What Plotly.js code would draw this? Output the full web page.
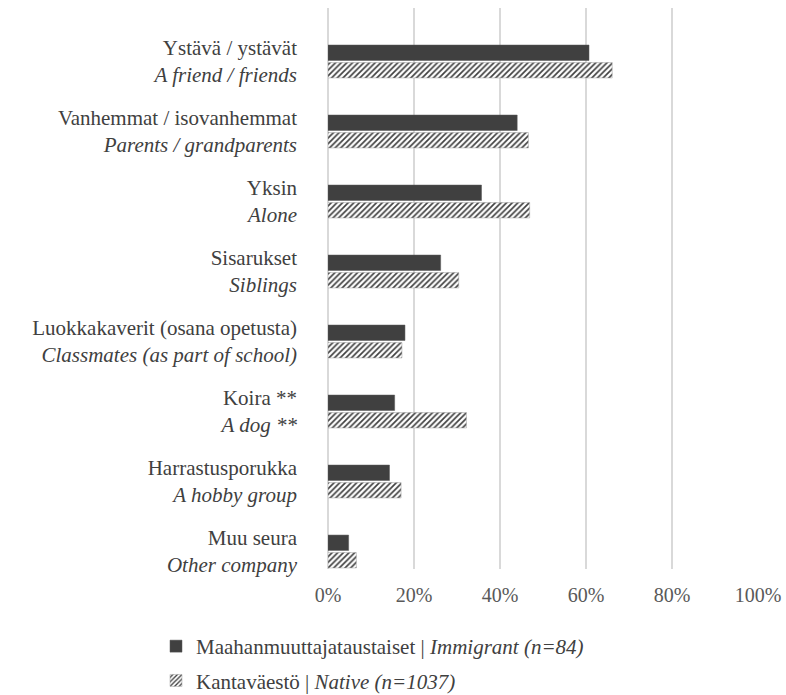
<!DOCTYPE html>
<html>
<head>
<meta charset="utf-8">
<script src="https://cdn.plot.ly/plotly-3.0.1.min.js"></script>
<style>
svg text, svg tspan { font-family: "Liberation Serif", "Times New Roman", serif !important; }
</style>
</head>
<body style="margin:0;padding:0;background:#fff;">
<div id="chart" style="width:786px;height:695px;"></div>
<script>
const categoriesFi = ["Ystävä / ystävät", "Vanhemmat / isovanhemmat", "Yksin", "Sisarukset", "Luokkakaverit (osana opetusta)", "Koira **", "Harrastusporukka", "Muu seura"];
const categoriesEn = ["A friend / friends", "Parents / grandparents", "Alone", "Siblings", "Classmates (as part of school)", "A dog **", "A hobby group", "Other company"];
const immigrant = [60.7, 44.0, 35.7, 26.2, 17.9, 15.5, 14.3, 4.8];
const nativePop = [66.1, 46.6, 46.9, 30.4, 17.2, 32.2, 17.0, 6.6];
const seriesNames = ["Maahanmuuttajataustaiset | <i>Immigrant (n=84)</i>", "Kantaväestö | <i>Native (n=1037)</i>"];
const tickVals = [0, 0.2, 0.4, 0.6, 0.8, 1.0];

const labels = categoriesFi.map((f, i) => f + "<br><i>" + categoriesEn[i] + "</i>");
const FAM = "Liberation Serif";

const traces = [
  {
    type: "bar", orientation: "h", name: seriesNames[0], legendgroup: "a",
    y: labels, x: immigrant.map(v => v / 100),
    marker: {color: "#404040", line: {color: "#595959", width: 0.5}},
    hoverinfo: "x"
  },
  {
    type: "bar", orientation: "h", name: seriesNames[1], legendgroup: "b",
    y: labels, x: nativePop.map(v => v / 100),
    marker: {color: "#ffffff", line: {color: "#a0a0a0", width: 0.5},
      pattern: {shape: "/", fgcolor: "#404040", bgcolor: "#ffffff", size: 4, solidity: 0.42}},
    hoverinfo: "x"
  }
];

const layout = {
  width: 786, height: 695,
  margin: {l: 328, r: 28, t: 8, b: 126, autoexpand: false},
  paper_bgcolor: "#ffffff", plot_bgcolor: "#ffffff",
  font: {family: FAM, size: 21, color: "#404040"},
  barmode: "group", bargap: 0.5, bargroupgap: 0.12,
  showlegend: true,
  legend: {
    x: -0.40, xanchor: "left", y: -0.1016, yanchor: "top",
    orientation: "v", traceorder: "grouped",
    font: {family: FAM, size: 21, color: "#404040"},
    itemwidth: 30, tracegroupgap: 4
  },
  xaxis: {
    range: [0, 1], tickvals: tickVals, tickformat: ".0%",
    showgrid: true, gridcolor: "#d9d9d9", gridwidth: 1.5,
    zeroline: true, zerolinecolor: "#d9d9d9", zerolinewidth: 1.5,
    showline: false, ticks: "",
    ticklabelstandoff: 12,
    tickfont: {family: FAM, size: 20, color: "#595959"},
    fixedrange: true
  },
  yaxis: {
    type: "category",
    range: [7.25, -0.764],
    showgrid: false, zeroline: false, showline: false, ticks: "",
    ticklabelstandoff: 30,
    tickfont: {family: FAM, size: 21, color: "#404040"},
    fixedrange: true
  }
};

Plotly.newPlot("chart", traces, layout, {displayModeBar: false});
</script>
</body>
</html>
